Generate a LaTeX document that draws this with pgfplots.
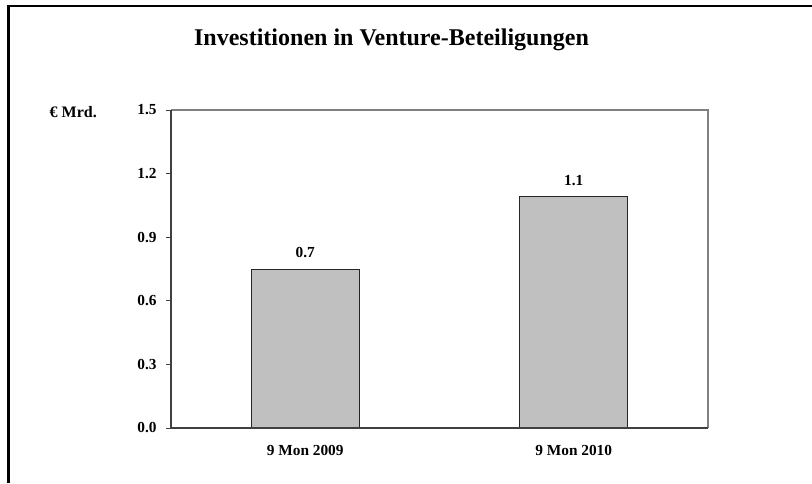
\documentclass[border=0pt]{standalone}
\usepackage{pgfplots}
\pgfplotsset{compat=1.18}
\usepackage{fontspec}
\setmainfont{Liberation Serif}
\definecolor{barfill}{RGB}{192,192,192}
\definecolor{axdark}{RGB}{64,64,64}
\definecolor{axgray}{RGB}{128,128,128}
\begin{document}
\begin{tikzpicture}[x=0.75pt,y=0.75pt]
\path[use as bounding box] (0,0) rectangle (812,483);
\draw[line width=1.9pt, black] (8.5,0) -- (8.5,477.2) -- (812,477.2);
\node[anchor=base, font=\bfseries\fontsize{18}{20}\selectfont] at (391.5,437) {Investitionen in Venture-Beteiligungen};
\node[anchor=base west, font=\bfseries\fontsize{12}{14}\selectfont] at (45,366) {€ Mrd.};
\begin{axis}[
  at={(128.25pt,41.25pt)}, anchor=south west,
  width=402.75pt, height=238.5pt, scale only axis,
  xmin=-0.5, xmax=1.5, ymin=0, ymax=1.5,
  axis line style={draw=none},
  ytick={0,0.3,0.6,0.9,1.2,1.5},
  yticklabel style={/pgf/number format/fixed, /pgf/number format/fixed zerofill, /pgf/number format/precision=1, xshift=-3.5pt},
  /pgf/number format/assume math mode=true,
  tick label style={font=\bfseries\fontsize{11.5}{13}\selectfont, text=black},
  xtick={0,1}, xticklabels={9 Mon 2009, 9 Mon 2010},
  major x tick style={draw=none},
  xticklabel style={yshift=-6pt},
  extra x ticks={-0.5,0.5,1.5}, extra x tick labels={},
  extra x tick style={major tick style={draw=axdark, line width=0.75pt}},
  tick align=outside, major tick length=3.75pt,
  ytick style={draw=axdark, line width=0.75pt},
  ytick pos=left, xtick pos=bottom,
  ybar, bar width=81pt,
  point meta=explicit symbolic,
  nodes near coords,
  nodes near coords style={font=\bfseries\fontsize{11.5}{13}\selectfont, yshift=5pt},
  clip=false,
]
\addplot[fill=barfill, draw=black!85, line width=0.75pt] table[meta=label] {
x y label
0 0.75 0.7
1 1.09 1.1
};
\draw[axgray, line width=1.1pt] (rel axis cs:0,1) -- (rel axis cs:1,1) -- (rel axis cs:1,0);
\draw[axdark, line width=1.1pt] (rel axis cs:0,1) -- (rel axis cs:0,0) -- (rel axis cs:1,0);
\end{axis}
\end{tikzpicture}
\end{document}
